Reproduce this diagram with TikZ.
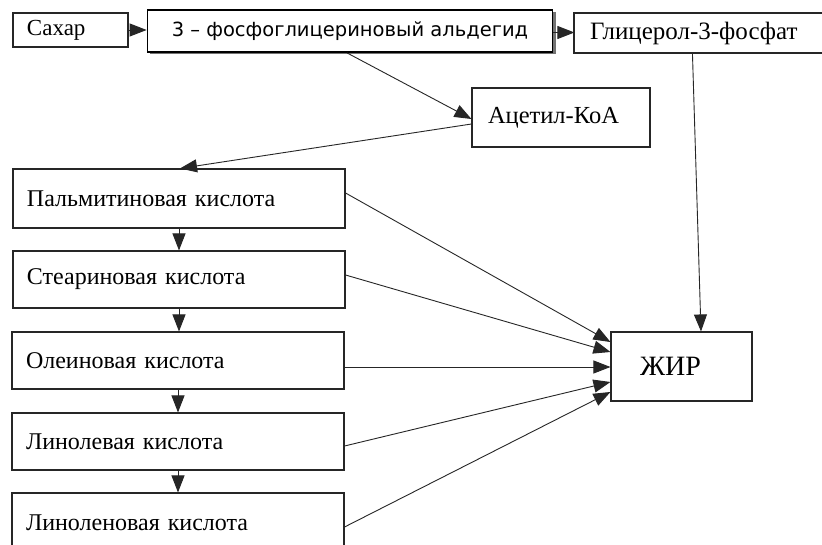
\documentclass[tikz,border=0pt]{standalone}
\usepackage{fontspec}
\setmainfont{Liberation Serif}
\newfontfamily\pgafont{DejaVu Sans}
\usetikzlibrary{arrows.meta,calc}
\begin{document}
\begin{tikzpicture}[x=1pt,y=-1pt,
  box/.style={draw=black!85,line width=1.1pt,rectangle,inner sep=0pt,fill=white},
  acid/.style={box,minimum width=332pt,minimum height=59pt,text width=304pt,align=left,font=\fontsize{24}{27}\selectfont},
  arr/.style={line width=0.9pt,draw=black!85,-{Triangle[length=17pt,width=13pt]}}]
\clip (0,0) rectangle (822,545);
\fill[white] (0,0) rectangle (822,545);
% top row
\node[box,minimum width=115pt,minimum height=34pt,text width=87pt,align=left,font=\fontsize{23}{26}\selectfont] (sugar) at (70.5,30) {Сахар};
\fill[black!55] (150,12.5) rectangle (555.5,54.5);
\node[box,draw=black,line width=1.8pt,minimum width=405pt,minimum height=42pt,font=\pgafont\fontsize{19.5}{22}\selectfont] (pga) at (350,31) {3 – фосфоглицериновый альдегид};
\node[box,minimum width=256pt,minimum height=40pt,text width=224pt,align=left,font=\fontsize{25}{28}\selectfont] (glyc) at (702,33) {Глицерол-3-фосфат};
\node[box,minimum width=178pt,minimum height=59pt,text width=146pt,align=left,font=\fontsize{24.5}{27}\selectfont] (acet) at (561,117.5) {Ацетил-КоА};
% acids
\node[acid] (palm) at (179,198.5) {Пальмитиновая кислота};
\node[acid,minimum height=57pt] (stear) at (179,279.5) {Стеариновая кислота};
\node[acid,minimum height=57pt] (olein) at (178,360.5) {Олеиновая кислота};
\node[acid,minimum height=57pt] (linol) at (178,441.5) {Линолевая кислота};
\node[acid] (linolen) at (178,522.5) {Линоленовая кислота};
% fat
\node[box,minimum width=141pt,minimum height=69pt,text width=83pt,align=left,font=\fontsize{28}{30}\selectfont] (fat) at (681.5,366.5) {ЖИР};
% connectors
\draw[arr] (sugar.east) -- (sugar.east -| pga.west);
\draw[arr] ($(pga.east)+(0,1.5)$) -- ($(pga.east)+(21,1.5)$) coordinate (glycin);
\draw[arr] ($(pga.south)+(-3,0)$) -- ($(acet.west)+(0,1.5)$);
\draw[arr] ($(acet.west)+(0,6.5)$) -- ($(palm.north)+(1,0)$);
\draw[arr] (palm.south) -- (stear.north);
\draw[arr] (stear.south) -- (olein.north -| stear.south);
\draw[arr] (olein.south) -- (linol.north);
\draw[arr] (linol.south) -- (linolen.north);
\draw[arr] ($(palm.east)+(0,-5.5)$) -- ($(fat.west)+(0,-24.5)$);
\draw[arr] ($(stear.east)+(0,-4.5)$) -- ($(fat.west)+(0,-14.5)$);
\draw[arr] ($(olein.east)+(0,6.5)$) -- ($(fat.west)+(0,0.5)$);
\draw[arr] ($(linol.east)+(0,4.5)$) -- ($(fat.west)+(0,15.5)$);
\draw[arr] ($(linolen.east)+(0,4.5)$) -- ($(fat.west)+(0,25.5)$);
\draw[arr] ($(glyc.south west)+(119,0)$) -- ($(fat.north)+(19.5,0)$);
\end{tikzpicture}
\end{document}
